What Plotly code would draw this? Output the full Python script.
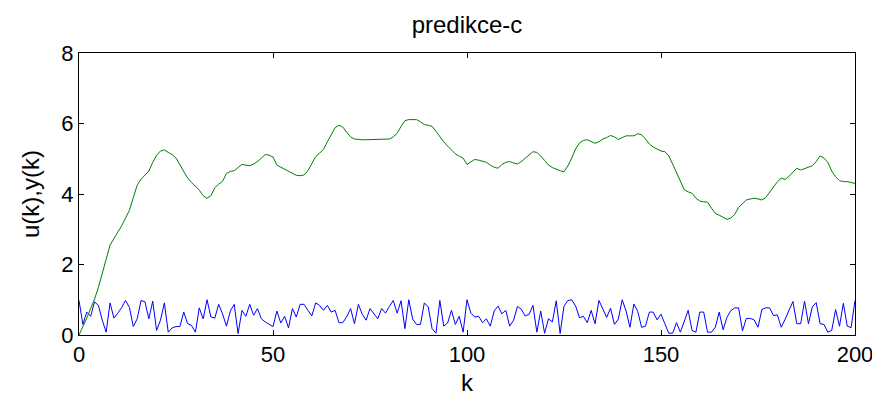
import plotly.graph_objects as go

k = list(range(201))

u = [0.98, 0.30, 0.65, 0.53, 0.94, 0.84, 0.42, 0.08, 0.91, 0.48,
     0.62, 0.78, 0.98, 0.78, 0.24, 0.46, 0.98, 0.94, 0.46, 0.96,
     0.13, 0.42, 0.91, 0.08, 0.20, 0.24, 0.24, 0.65, 0.32, 0.27,
     0.08, 0.77, 0.46, 1.00, 0.51, 0.48, 0.87, 0.60, 0.25, 0.68,
     0.87, 0.04, 0.70, 0.53, 0.87, 0.56, 0.75, 0.46, 0.37, 0.30,
     0.24, 0.68, 0.34, 0.53, 0.20, 0.75, 0.51, 0.87, 0.87, 0.70,
     0.54, 0.91, 0.84, 0.70, 0.84, 0.65, 0.70, 0.35, 0.35, 0.52,
     0.75, 0.32, 0.87, 0.59, 0.42, 0.75, 0.60, 0.46, 0.75, 0.62,
     0.81, 0.98, 0.62, 0.97, 0.18, 1.00, 0.45, 0.30, 0.30, 0.91,
     0.80, 0.18, 0.05, 0.98, 0.25, 0.34, 0.70, 0.30, 0.53, 0.08,
     1.00, 0.62, 0.51, 0.53, 0.35, 0.46, 0.25, 0.68, 0.82, 0.60,
     0.70, 0.25, 0.42, 0.81, 0.73, 0.54, 0.59, 0.84, 0.08, 0.68,
     0.05, 0.46, 0.37, 0.97, 0.04, 0.82, 0.98, 1.00, 0.82, 0.49,
     0.53, 0.35, 0.70, 0.32, 0.98, 0.76, 0.50, 0.76, 0.30, 0.45,
     1.00, 0.68, 0.22, 0.88, 0.67, 0.22, 0.25, 0.65, 0.65, 0.43,
     0.59, 0.32, 0.05, 0.05, 0.35, 0.08, 0.40, 0.70, 0.13, 0.08,
     0.65, 0.65, 0.08, 0.08, 0.22, 0.65, 0.15, 0.50, 0.69, 0.77,
     0.77, 0.12, 0.47, 0.47, 0.43, 0.22, 0.72, 0.77, 0.77, 0.55,
     0.57, 0.22, 0.45, 0.69, 0.95, 0.32, 0.32, 0.96, 0.32, 0.80,
     0.92, 0.32, 0.30, 0.08, 0.13, 0.72, 0.25, 0.90, 0.25, 0.21,
     0.98]

y = [0.00, 0.22, 0.48, 0.75, 1.02, 1.35, 1.72, 2.15, 2.55, 2.75,
     2.92, 3.10, 3.30, 3.54, 3.90, 4.25, 4.42, 4.55, 4.65, 4.90,
     5.10, 5.22, 5.25, 5.18, 5.12, 5.02, 4.82, 4.62, 4.45, 4.33,
     4.22, 4.11, 3.95, 3.88, 3.95, 4.18, 4.28, 4.36, 4.58, 4.64,
     4.66, 4.75, 4.84, 4.82, 4.80, 4.85, 4.92, 5.02, 5.12, 5.10,
     5.05, 4.82, 4.76, 4.70, 4.64, 4.58, 4.53, 4.52, 4.54, 4.66,
     4.88, 5.06, 5.16, 5.26, 5.48, 5.66, 5.88, 5.95, 5.90, 5.75,
     5.62, 5.56, 5.54, 5.54, 5.54, 5.54, 5.54, 5.54, 5.54, 5.54,
     5.56, 5.62, 5.72, 5.92, 6.08, 6.11, 6.11, 6.11, 6.05, 5.97,
     5.95, 5.92, 5.78, 5.62, 5.48, 5.36, 5.25, 5.14, 5.07, 5.02,
     4.84, 4.92, 4.98, 4.96, 4.92, 4.90, 4.82, 4.76, 4.73, 4.84,
     4.90, 4.92, 4.88, 4.85, 4.92, 5.02, 5.10, 5.20, 5.18, 5.08,
     4.95, 4.82, 4.75, 4.70, 4.66, 4.63, 4.80, 5.02, 5.28, 5.45,
     5.52, 5.54, 5.50, 5.44, 5.48, 5.56, 5.60, 5.66, 5.62, 5.55,
     5.60, 5.65, 5.65, 5.65, 5.71, 5.68, 5.56, 5.42, 5.33, 5.27,
     5.22, 5.20, 5.08, 4.85, 4.62, 4.35, 4.12, 4.06, 4.02, 3.88,
     3.80, 3.78, 3.77, 3.60, 3.45, 3.40, 3.35, 3.28, 3.32, 3.42,
     3.62, 3.74, 3.83, 3.86, 3.88, 3.86, 3.83, 3.90, 4.05, 4.22,
     4.35, 4.45, 4.41, 4.50, 4.62, 4.73, 4.68, 4.72, 4.78, 4.80,
     4.92, 5.08, 5.02, 4.90, 4.65, 4.49, 4.38, 4.35, 4.35, 4.32,
     4.30]

x_ticks = [0, 50, 100, 150, 200]
y_ticks = [0, 2, 4, 6, 8]
title_text = "predikce-c"
x_label = "k"
y_label = "u(k),y(k)"

FONT = "Arial, Liberation Sans, Helvetica, sans-serif"
FS = 22
FS_LABEL = 24

# the page body has an 8px margin; size the figure so it fits the window
W, H = 872, 393
L, R, T, B = 71, 25, 45, 66
plot_h = H - T - B

fig = go.Figure()
fig.add_trace(go.Scatter(x=k, y=u, mode="lines", line=dict(color="#0000FF", width=1), showlegend=False))
fig.add_trace(go.Scatter(x=k, y=y, mode="lines", line=dict(color="#008000", width=1), showlegend=False))

axis_common = dict(
    showgrid=False, zeroline=False, showline=True, linecolor="black", linewidth=1,
    mirror="ticks", ticks="inside", ticklen=5, tickcolor="black", automargin=False,
    tickfont=dict(family=FONT, size=FS, color="black"),
)

fig.update_layout(
    width=W, height=H,
    margin=dict(l=L, r=R, t=T, b=B),
    paper_bgcolor="white", plot_bgcolor="white",
    title=dict(text=title_text, x=0.5, xref="paper", xanchor="center",
               y=1 - 17 / H, yref="container", yanchor="middle",
               font=dict(family=FONT, size=FS_LABEL, color="black")),
    xaxis=dict(range=[0, 200], tickvals=x_ticks, **axis_common),
    yaxis=dict(range=[0, 8], tickvals=y_ticks, **axis_common),
    annotations=[
        dict(text=x_label, xref="paper", yref="paper", x=0.5, y=-(382 - 335) / plot_h,
             xanchor="center", yanchor="middle", showarrow=False,
             font=dict(family=FONT, size=FS_LABEL, color="black")),
        dict(text=y_label, xref="paper", yref="paper", x=-(79 - 30) / (W - L - R), y=0.5,
             xanchor="center", yanchor="middle", textangle=-90, showarrow=False,
             font=dict(family=FONT, size=FS_LABEL, color="black")),
    ],
)

fig.write_html("out.html")
